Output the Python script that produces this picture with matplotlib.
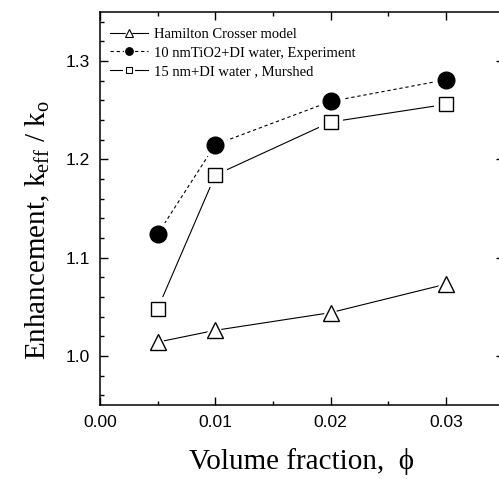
import numpy as np
import matplotlib
matplotlib.use('Agg')
import matplotlib.pyplot as plt
from matplotlib.ticker import MultipleLocator
from matplotlib.legend_handler import HandlerTuple

matplotlib.rcParams['mathtext.fontset'] = 'custom'
matplotlib.rcParams['mathtext.rm'] = 'Liberation Serif'
matplotlib.rcParams['mathtext.it'] = 'Liberation Serif:italic'

# data
phi = [0.005, 0.01, 0.02, 0.03]
hamilton = [1.014, 1.026, 1.044, 1.073]
experiment = [1.124, 1.215, 1.259, 1.281]
murshed = [1.048, 1.184, 1.238, 1.256]
labels = ['Hamilton Crosser model', '10 nmTiO2+DI water, Experiment', '15 nm+DI water , Murshed']

fig = plt.figure(figsize=(4.99, 4.79), dpi=100)
ax = fig.add_axes([0.2004, 0.1545, 0.809, 0.8205])

styles = [
    (hamilton, '-', '^', 'white', 12),
    (experiment, (0, (3, 2.5)), 'o', 'black', 12),
    (murshed, '-', 's', 'white', 10),
]

handles = []
for ys, ls, mk, fc, ms in styles:
    # line + white halo to leave a gap around markers
    ax.plot(phi, ys, color='black', linestyle=ls, linewidth=0.8,
            marker=mk, markersize=ms + 7, markerfacecolor='white',
            markeredgecolor='white', markeredgewidth=0, zorder=2)
    ax.plot(phi, ys, linestyle='none', marker=mk, markersize=ms,
            markerfacecolor=fc, markeredgecolor='black', markeredgewidth=1.0, zorder=3)
    h1 = matplotlib.lines.Line2D([], [], color='black', linestyle=ls, linewidth=0.8,
                                 marker=mk, markersize=8, markerfacecolor='white',
                                 markeredgecolor='white', markeredgewidth=0)
    h2 = matplotlib.lines.Line2D([], [], linestyle='none', marker=mk, markersize=5.5 if mk != 's' else 5,
                                 markerfacecolor=fc, markeredgecolor='black', markeredgewidth=0.8)
    handles.append((h1, h2))

ax.legend(handles, labels, handler_map={tuple: HandlerTuple(ndivide=1)},
          loc='upper left', bbox_to_anchor=(0.0, 0.985), frameon=False,
          prop={'family': 'Liberation Serif', 'size': 10.5},
          handlelength=2.6, handletextpad=0.4, labelspacing=0.35, borderaxespad=0.3)

ax.set_xlim(0, 0.035)
ax.set_ylim(0.95, 1.35)
ax.xaxis.set_major_locator(MultipleLocator(0.01))
ax.xaxis.set_minor_locator(MultipleLocator(0.005))
ax.yaxis.set_major_locator(MultipleLocator(0.1))
ax.yaxis.set_minor_locator(MultipleLocator(0.02))
ax.xaxis.set_major_formatter(matplotlib.ticker.FormatStrFormatter('%.2f'))
ax.yaxis.set_major_formatter(matplotlib.ticker.FormatStrFormatter('%.1f'))

ax.tick_params(which='both', direction='in', top=True, right=True, width=1.0,
               labelsize=12.5, labelfontfamily='Liberation Sans')
ax.tick_params(which='major', length=5.5, pad=7)
ax.tick_params(which='minor', length=3)
for s in ax.spines.values():
    s.set_linewidth(1.1)

ax.set_xlabel('Volume fraction,  \u03d5', family=['Liberation Serif', 'DejaVu Serif'],
              fontsize=21, labelpad=13)
ax.set_ylabel(r'Enhancement, k$_{\rm eff}$ / k$_{\rm o}$', family='Liberation Serif',
              fontsize=21)
ax.yaxis.set_label_coords(-0.12, 0.445)

fig.savefig('out.png', dpi=100)
